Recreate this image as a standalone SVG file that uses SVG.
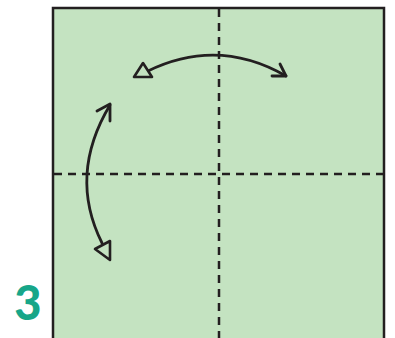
<svg xmlns="http://www.w3.org/2000/svg" width="395" height="338" viewBox="0 0 395 338">
<style>
.paper{fill:#c4e3c1;stroke:#231f20;stroke-width:2.5}
.fold{fill:none;stroke:#231f20;stroke-width:2.5;stroke-dasharray:8,6}
.arr{fill:none;stroke:#231f20;stroke-width:2.8;stroke-linecap:round;stroke-linejoin:round}
.tri{fill:#c4e3c1;stroke:#231f20;stroke-width:2.6;stroke-linejoin:round}
.num{font-family:Lato,"Noto Sans",sans-serif;font-weight:900;font-size:47px;fill:#17a689}
</style>
<g id="paper">
<rect class="paper" x="53" y="8" width="331" height="340"/>
</g>
<g id="folds">
<line class="fold" x1="219" y1="9" x2="219" y2="338"/>
<line class="fold" x1="54" y1="174" x2="383" y2="174"/>
</g>
<g id="connectors">
<path class="arr" d="M148,71 Q218,37 286,76"/>
<path class="arr" d="M280,64 L286,76 L272,76"/>
<polygon class="tri" points="134,77 152,77 143,63"/>
<path class="arr" d="M110,105 Q68,175 102,243"/>
<path class="arr" d="M97,111 L110,104 L110,121"/>
<polygon class="tri" points="110,241 110,260 95,249"/>
</g>
<g id="step">
<text class="num" x="28" y="320" text-anchor="middle">3</text>
</g>
</svg>
